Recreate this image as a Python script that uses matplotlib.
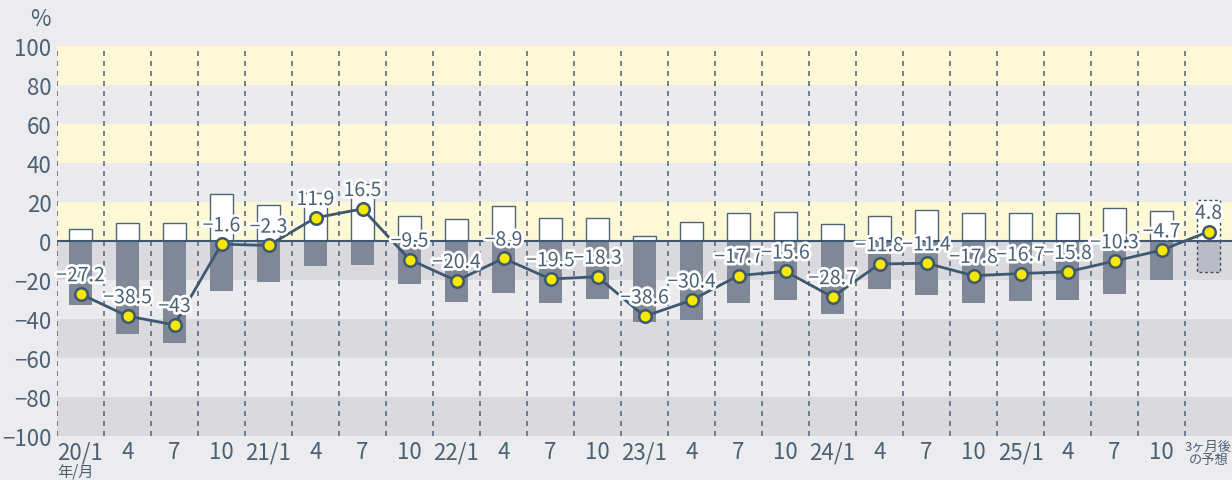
import matplotlib
matplotlib.use("Agg")
import matplotlib.pyplot as plt
import matplotlib.patheffects as pe
import numpy as np

plt.rcParams['font.family'] = ['Noto Sans CJK JP', 'DejaVu Sans']

labels = ['20/1', '4', '7', '10', '21/1', '4', '7', '10', '22/1', '4', '7', '10',
          '23/1', '4', '7', '10', '24/1', '4', '7', '10', '25/1', '4', '7', '10',
          '3ヶ月後\nの予想']
up = [6, 9, 9.3, 24, 18.5, 24.7, 29, 12.8, 11.1, 17.8, 12, 11.6,
      2.7, 9.6, 14.2, 15, 8.9, 12.7, 16.1, 14.2, 14.2, 14.2, 16.8, 15.2, 20.8]
down = [-33, -47.5, -52.3, -25.6, -20.8, -12.8, -12.5, -22.2, -31.1, -26.5, -31.6, -29.5,
        -41.4, -40.4, -32, -30.4, -37.6, -24.4, -27.7, -31.9, -30.8, -30, -27.1, -19.9, -16]
di = [-27.2, -38.5, -43, -1.6, -2.3, 11.9, 16.5, -9.5, -20.4, -8.9, -19.5, -18.3,
      -38.6, -30.4, -17.7, -15.6, -28.7, -11.8, -11.4, -17.8, -16.7, -15.8, -10.3, -4.7, 4.8]
di_text = ['−27.2', '−38.5', '−43', '−1.6', '−2.3', '11.9', '16.5', '−9.5', '−20.4', '−8.9',
           '−19.5', '−18.3', '−38.6', '−30.4', '−17.7', '−15.6', '−28.7', '−11.8', '−11.4',
           '−17.8', '−16.7', '−15.8', '−10.3', '−4.7', '4.8']

txt = '#4a6075'
dark = '#3d5870'
bg = '#ecebee'

fig = plt.figure(figsize=(12.32, 4.81), dpi=100)
fig.patch.set_facecolor(bg)
ax = fig.add_axes([57/1232, 44/481, 1175/1232, 390/481])
ax.set_facecolor(bg)
n = len(labels)
x = np.arange(n)
ax.set_xlim(-0.5, n - 0.5)
ax.set_ylim(-100, 100)

# background bands
for lo in range(-100, 100, 20):
    if lo >= 0:
        c = '#fdf8d6' if (lo // 20) % 2 == 0 else '#ebebee'
    else:
        c = '#d9d9de' if ((-lo) // 20) % 2 == 1 else '#ebebee'
    ax.axhspan(lo, lo + 20, color=c, lw=0, zorder=0)

for i in range(n):
    ax.axvline(i - 0.5, color='#5b6c80', lw=1.2, ls=(0, (3, 3)), zorder=1)

w = 0.5
ax.bar(x[:-1], up[:-1], w, color='white', edgecolor='#4f6478', lw=1, zorder=2)
ax.bar(x[:-1], down[:-1], w, color='#808898', lw=0, zorder=2)
ax.bar(x[-1], up[-1], w, color='white', edgecolor='#3d4d5e', lw=1, ls=(0, (2, 2)), zorder=2)
ax.bar(x[-1], down[-1], w, color='#bbbbc6', edgecolor='#3d4d5e', lw=1, ls=(0, (2, 2)), zorder=2)

ax.axhline(0, color=dark, lw=1.5, zorder=3)

ax.plot(x, di, color=dark, lw=2, marker='o', ms=9, mfc='#f8e800', mec=dark, mew=1.8, zorder=5)
for xi, v, t in zip(x, di, di_text):
    ax.text(xi, v + 4, t, ha='center', va='bottom', fontsize=14, color=txt, zorder=6,
            path_effects=[pe.withStroke(linewidth=4, foreground='white')])

ax.set_yticks(range(-100, 101, 20))
ax.set_yticklabels([str(v).replace('-', '−') for v in range(-100, 101, 20)])
ax.set_xticks(x)
ax.set_xticklabels(labels)
ax.tick_params(axis='both', length=0, labelsize=16, colors=txt)
ax.tick_params(axis='y', pad=4)
ax.tick_params(axis='x', pad=3)
last = ax.get_xticklabels()[-1]
last.set_fontsize(9.5)
last.set_linespacing(0.95)
last.set_x(x[-1] - 0.02)
for s in ax.spines.values():
    s.set_visible(False)

fig.text(40/1232, 1 - 20/481, '%', ha='center', va='center', fontsize=16, color=txt)
fig.text(57/1232, 1 - 472/481, '年/月', ha='left', va='center', fontsize=11, color=txt)

fig.savefig('out.png', dpi=100, facecolor=bg)
